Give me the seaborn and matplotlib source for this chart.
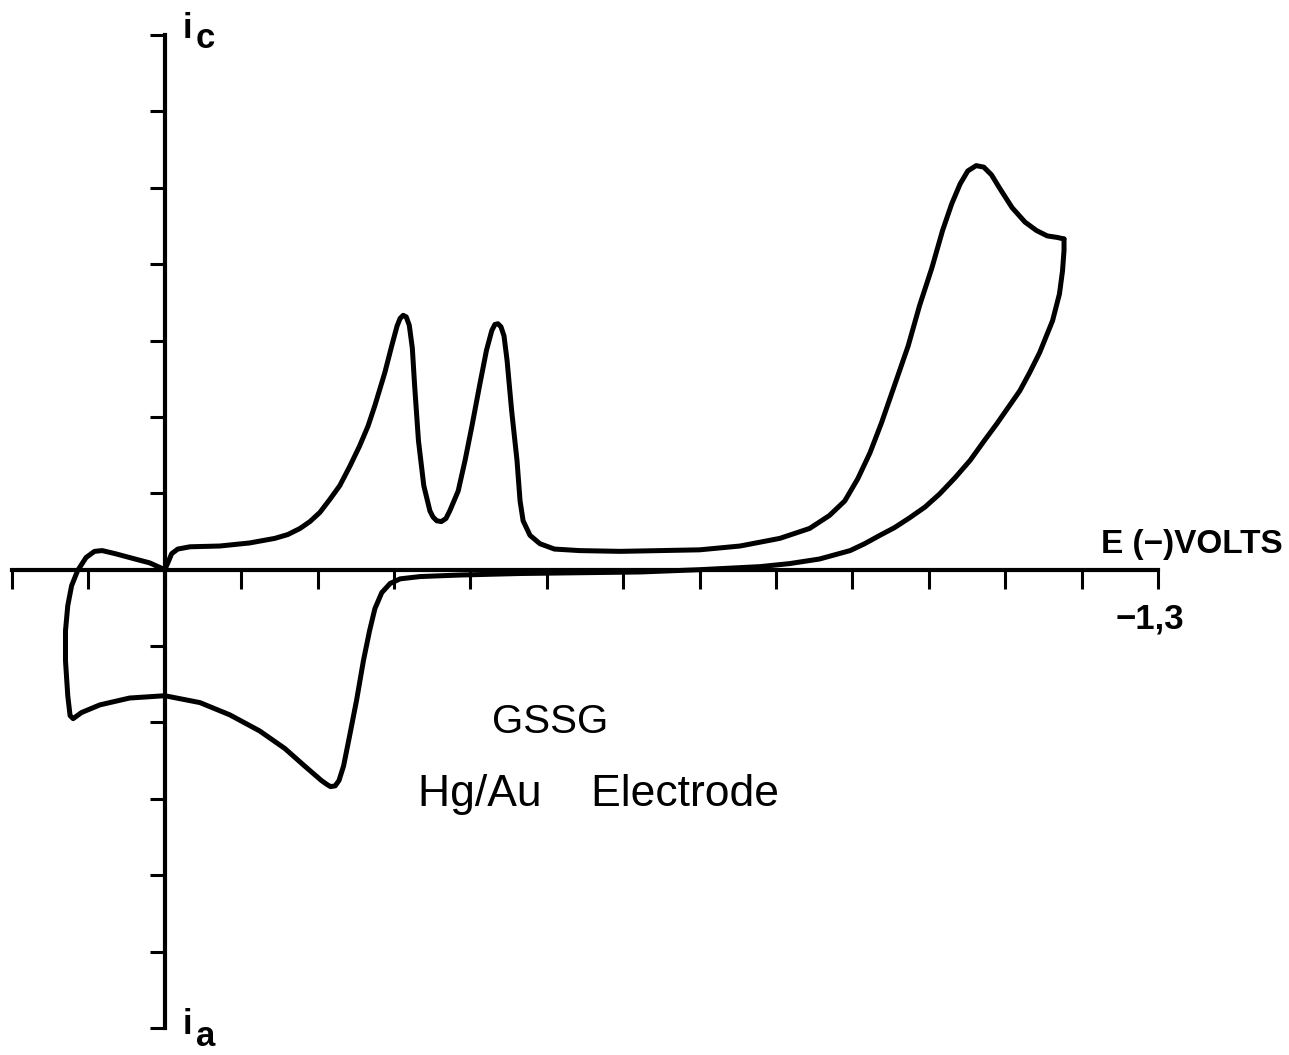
import matplotlib
matplotlib.use("Agg")
import matplotlib.pyplot as plt
import pandas as pd
import seaborn as sns

# Cyclic voltammogram of GSSG on a Hg/Au electrode.
# Potential in volts (negative = cathodic), current in chart divisions.
e_forward = [0.000, -0.004, -0.009, -0.017, -0.033, -0.072, -0.111, -0.144, -0.161, -0.177,
             -0.190, -0.203, -0.216, -0.229, -0.242, -0.255, -0.266, -0.275, -0.288, -0.297,
             -0.304, -0.308, -0.312, -0.316, -0.320, -0.324, -0.327, -0.332, -0.339, -0.347,
             -0.351, -0.356, -0.362, -0.368, -0.373, -0.384, -0.393, -0.402, -0.412, -0.421,
             -0.428, -0.432, -0.436, -0.440, -0.444, -0.448, -0.454, -0.461, -0.465, -0.469,
             -0.478, -0.491, -0.510, -0.543, -0.596, -0.648, -0.700, -0.753, -0.805, -0.844,
             -0.870, -0.890, -0.907, -0.923, -0.938, -0.955, -0.973, -0.988, -1.004, -1.018,
             -1.030, -1.041, -1.051, -1.062, -1.072, -1.082, -1.093, -1.109, -1.126, -1.141,
             -1.155, -1.168, -1.177]
i_forward = [0.00, 0.09, 0.21, 0.27, 0.30, 0.31, 0.35, 0.41, 0.46, 0.54,
             0.63, 0.75, 0.92, 1.10, 1.35, 1.62, 1.88, 2.15, 2.58, 2.93,
             3.19, 3.29, 3.33, 3.31, 3.20, 2.90, 2.41, 1.69, 1.10, 0.77,
             0.69, 0.64, 0.63, 0.67, 0.77, 1.03, 1.43, 1.88, 2.41, 2.87,
             3.13, 3.21, 3.22, 3.18, 3.06, 2.74, 2.08, 1.43, 0.90, 0.64,
             0.45, 0.34, 0.27, 0.25, 0.24, 0.25, 0.26, 0.31, 0.41, 0.54,
             0.71, 0.90, 1.19, 1.53, 1.92, 2.41, 2.93, 3.46, 3.95, 4.44,
             4.79, 5.05, 5.22, 5.29, 5.27, 5.17, 4.99, 4.74, 4.55, 4.44,
             4.37, 4.35, 4.33]

e_return = [-1.177, -1.177, -1.175, -1.171, -1.162, -1.145, -1.132, -1.119, -1.089, -1.072,
            -1.054, -1.034, -1.014, -0.995, -0.975, -0.955, -0.936, -0.916, -0.897, -0.857,
            -0.818, -0.779, -0.700, -0.622, -0.543, -0.465, -0.386, -0.334, -0.308, -0.295,
            -0.284, -0.275, -0.268, -0.260, -0.251, -0.242, -0.234, -0.228, -0.223, -0.217,
            -0.212, -0.205, -0.183, -0.157, -0.124, -0.085, -0.046, 0.000, 0.046, 0.085,
            0.109, 0.120, 0.124, 0.127, 0.130, 0.130, 0.127, 0.122, 0.114, 0.103,
            0.092, 0.082, 0.065, 0.039, 0.020, 0.000]
i_return = [4.33, 4.18, 3.91, 3.61, 3.26, 2.84, 2.58, 2.34, 1.91, 1.68,
            1.43, 1.20, 0.99, 0.82, 0.68, 0.55, 0.45, 0.34, 0.25, 0.14,
            0.08, 0.04, 0.00, -0.03, -0.04, -0.05, -0.07, -0.09, -0.12, -0.18,
            -0.30, -0.51, -0.80, -1.19, -1.71, -2.17, -2.57, -2.76, -2.83, -2.84,
            -2.81, -2.76, -2.57, -2.34, -2.11, -1.90, -1.74, -1.65, -1.68, -1.77,
            -1.87, -1.95, -1.91, -1.65, -1.19, -0.80, -0.47, -0.21, -0.01, 0.16,
            0.24, 0.25, 0.21, 0.14, 0.09, 0.00]

x_ticks = [0.2, 0.1, 0.0, -0.1, -0.2, -0.3, -0.4, -0.5, -0.6, -0.7, -0.8,
           -0.9, -1.0, -1.1, -1.2, -1.3]
y_ticks = [-6, -5, -4, -3, -2, -1, 0, 1, 2, 3, 4, 5, 6, 7]

fwd = pd.DataFrame({"E": e_forward, "i": i_forward})
ret = pd.DataFrame({"E": e_return, "i": i_return})

sns.set_style("white")
plt.rcParams["font.family"] = ["Liberation Sans", "DejaVu Sans"]
plt.rcParams["text.color"] = "black"

W, H = 1289, 1055
fig = plt.figure(figsize=(W / 100, H / 100), dpi=100)
ax = fig.add_axes([12 / W, 1 - 1028 / H, (1158 - 12) / W, (1028 - 35) / H])

for df in (fwd, ret):
    sns.lineplot(data=df, x="E", y="i", sort=False, estimator=None, color="black",
                 linewidth=3.6, ax=ax, solid_joinstyle="round", solid_capstyle="round",
                 clip_on=False, legend=False)

ax.set_xlim(0.2, -1.3)
ax.set_ylim(-6, 7)

# axes crossing at the origin
for s in ("top", "right"):
    ax.spines[s].set_visible(False)
ax.spines["left"].set_position(("data", 0))
ax.spines["bottom"].set_position(("data", 0))
for s in ("left", "bottom"):
    ax.spines[s].set_linewidth(3.0)
    ax.spines[s].set_color("black")
    ax.spines[s].set_zorder(1)

ax.set_xticks(x_ticks)
ax.set_yticks(y_ticks)
ax.set_xticklabels([])
ax.set_yticklabels([])
ax.tick_params(axis="x", bottom=True, direction="out", length=14, width=2.2, color="black")
ax.tick_params(axis="y", left=True, direction="out", length=11, width=2.2, color="black")
ax.set_xlabel("")
ax.set_ylabel("")


def px(x, y):
    return x / W, 1 - y / H


# labels
fig.text(*px(1283, 553), "E (−)VOLTS", ha="right", va="baseline",
         fontsize=24, fontweight="bold")
fig.text(*px(1150, 628), "−1,3", ha="center", va="baseline",
         fontsize=25, fontweight="bold")
fig.text(*px(183, 38), "i", ha="left", va="baseline", fontsize=25, fontweight="bold")
fig.text(*px(196, 48), "c", ha="left", va="baseline", fontsize=25, fontweight="bold")
fig.text(*px(183, 1034), "i", ha="left", va="baseline", fontsize=25, fontweight="bold")
fig.text(*px(196, 1046), "a", ha="left", va="baseline", fontsize=25, fontweight="bold")

fig.text(*px(550, 733), "GSSG", ha="center", va="baseline", fontsize=29)
fig.text(*px(598, 806), "Hg/Au    Electrode", ha="center", va="baseline", fontsize=32)

plt.savefig("out.png", dpi=100, facecolor="white")
